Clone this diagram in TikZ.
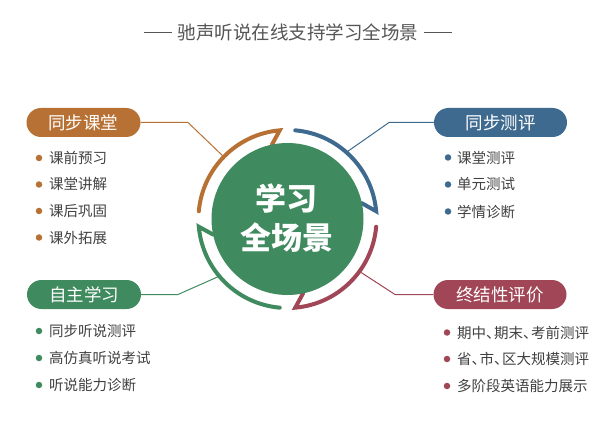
\documentclass[tikz,border=0pt]{standalone}
\usepackage{fontspec}
\setmainfont{Noto Sans CJK SC}
\definecolor{corange}{RGB}{184,113,52}
\definecolor{cblue}{RGB}{62,106,143}
\definecolor{cred}{RGB}{160,70,86}
\definecolor{cgreen}{RGB}{63,138,94}
\definecolor{ctext}{RGB}{64,64,64}
\definecolor{ctitle}{RGB}{85,85,85}
\newcommand{\dun}{、\kern-0.45em}
\tikzset{
  pill/.style={fill=#1, text=white, rounded corners=14.5pt, minimum height=29pt, inner sep=0pt, font=\fontsize{17.5}{20}\selectfont},
  lpill/.style={pill=#1, minimum width=114pt},
  rpill/.style={pill=#1, minimum width=133pt},
  conn/.style={draw=#1, line width=1pt},
  ring/.style={draw=#1, line width=4pt, line cap=round, line join=miter},
  dot/.style={fill=#1, circle, minimum size=6.5pt, inner sep=0pt},
  item/.style={anchor=west, inner sep=0pt, text=ctext, font=\fontsize{14.5}{17}\selectfont},
}
\begin{document}
\begin{tikzpicture}[x=1pt,y=-1pt]
\useasboundingbox (0,0) rectangle (611,425);
% title
\node[inner sep=0pt, text=ctitle, font=\fontsize{18.5}{22}\selectfont] (title) at (298,32) {驰声听说在线支持学习全场景};
\draw[ctitle, line width=0.9pt] ([xshift=-6pt]title.west) -- ([xshift=-34pt]title.west);
\draw[ctitle, line width=0.9pt] ([xshift=6pt]title.east) -- ([xshift=34pt]title.east);

% pills
\node[lpill=corange] (p1) at (83.5,122.5) {同步课堂};
\node[rpill=cblue] (p2) at (500.5,122.5) {同步测评};
\node[lpill=cgreen] (p3) at (84,294.5) {自主学习};
\node[rpill=cred] (p4) at (500,294.5) {终结性评价};

% ring geometry
\begin{scope}[shift={(287.5,219)}, x=1pt, y=1pt]
  \coordinate (c) at (0,0);
  \coordinate (t1) at (135.7:90);
  \coordinate (t2) at (48.4:90);
  \coordinate (t3) at (-36:91);
  \coordinate (t4) at (219.8:90);
  \draw[ring=corange] (101.8:76) -- (95:89) arc[start angle=95, end angle=175, radius=89];
  \draw[ring=cblue] (12:76) -- (5:89) arc[start angle=5, end angle=85, radius=89];
  \draw[ring=cred] (-78.2:76) -- (-85:89) arc[start angle=-85, end angle=-5, radius=89];
  \draw[ring=cgreen] (-168.2:76) -- (-175:89) arc[start angle=-175, end angle=-95, radius=89];
  \fill[cgreen] (c) circle[radius=76];
\end{scope}

% connectors
\coordinate (k1) at (188,122.5);
\coordinate (k2) at (389,122.5);
\coordinate (k3) at (178,294.5);
\coordinate (k4) at (395,294.5);
\draw[conn=corange] (p1.east) -- (k1) -- (t1);
\draw[conn=cblue] (p2.west) -- (k2) -- (t2);
\draw[conn=cgreen] (p3.east) -- (k3) -- (t4);
\draw[conn=cred] (p4.west) -- (k4) -- (t3);

% center text
\node[text=white, inner sep=0pt, font=\fontsize{31}{36}\bfseries] (m1) at (286.5,198) {学习};
\node[text=white, inner sep=0pt, font=\fontsize{31}{36}\bfseries] (m2) at (286.5,238) {全场景};

% bullet lists
\node[dot=corange] (d11) at (39,158) {}; \node[item] (i11) at (49,158) {课前预习};
\node[dot=corange] (d12) at (39,184.5) {}; \node[item] (i12) at (49,184.5) {课堂讲解};
\node[dot=corange] (d13) at (39,211) {}; \node[item] (i13) at (49,211) {课后巩固};
\node[dot=corange] (d14) at (39,237.5) {}; \node[item] (i14) at (49,237.5) {课外拓展};

\node[dot=cblue] (d21) at (448,157.5) {}; \node[item] (i21) at (457,157.5) {课堂测评};
\node[dot=cblue] (d22) at (448,184.5) {}; \node[item] (i22) at (457,184.5) {单元测试};
\node[dot=cblue] (d23) at (448,211.5) {}; \node[item] (i23) at (457,211.5) {学情诊断};

\node[dot=cgreen] (d31) at (39,331) {}; \node[item] (i31) at (49,331) {同步听说测评};
\node[dot=cgreen] (d32) at (39,358) {}; \node[item] (i32) at (49,358) {高仿真听说考试};
\node[dot=cgreen] (d33) at (39,385) {}; \node[item] (i33) at (49,385) {听说能力诊断};

\node[dot=cred] (d41) at (447,332.5) {}; \node[item] (i41) at (457,332.5) {期中\dun 期末\dun 考前测评};
\node[dot=cred] (d42) at (447,359) {}; \node[item] (i42) at (457,359) {省\dun 市\dun 区大规模测评};
\node[dot=cred] (d43) at (447,386) {}; \node[item] (i43) at (457,386) {多阶段英语能力展示};
\end{tikzpicture}
\end{document}
